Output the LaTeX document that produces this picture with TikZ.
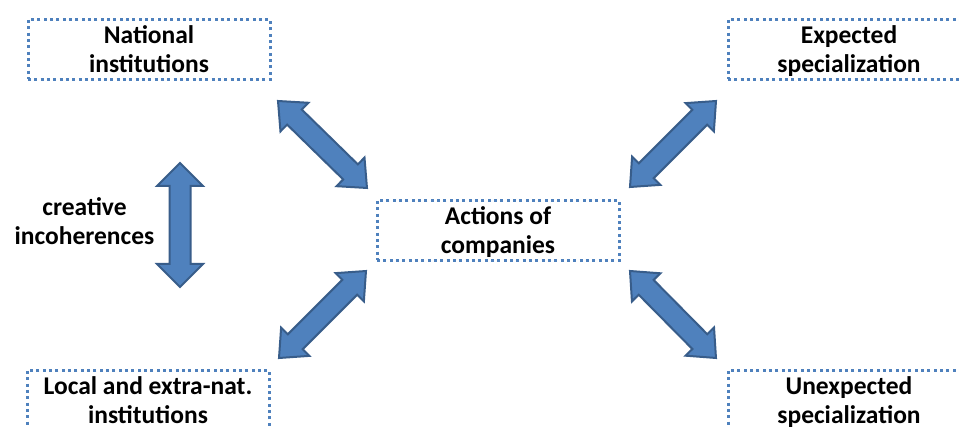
\documentclass[tikz,border=0pt]{standalone}
\usepackage{fontspec}
\setmainfont{Carlito}
\usetikzlibrary{calc}
\definecolor{boxblue}{HTML}{4F81BD}
\definecolor{arrowfill}{HTML}{4F81BD}
\definecolor{arrowline}{HTML}{385D8A}
\newcommand\boxfont{\fontsize{25.5}{29}\selectfont\bfseries}
\newcommand\st{\rule[-4pt]{0pt}{26pt}}
% double arrow: from, to, head length, head half width, shaft half width
\newcommand\dblarrow[5]{%
  \draw[bigarrow] let \p1=($(#2)-(#1)$), \n1={veclen(\x1,\y1)}, \n2={atan2(\y1,\x1)} in
    [shift={(#1)}, rotate=\n2]
    (0,0) -- (#3,#4) -- (#3,#5) -- ({\n1-#3},#5) -- ({\n1-#3},#4) -- (\n1,0)
    -- ({\n1-#3},-#4) -- ({\n1-#3},-#5) -- (#3,-#5) -- (#3,-#4) -- cycle;}
\tikzset{
  box/.style={draw=boxblue, line width=3pt, dash pattern=on 3pt off 3.33pt,
    minimum width=242pt, minimum height=60pt, inner sep=0pt, align=center, font=\boxfont},
  lbl/.style={inner sep=0pt, align=center, font=\boxfont},
  bigarrow/.style={fill=arrowfill, draw=arrowline, line width=2pt, line join=miter}
}
\begin{document}
\begin{tikzpicture}[x=1pt, y=-1pt]
  \clip (0,0) rectangle (959,427);
  \fill[white] (0,0) rectangle (959,427);
  % boxes
  \node[box] (nat) at (149,49.5) {\st National\\\st institutions};
  \node[box] (exp) at (849,49.5) {\st Expected\\\st specialization};
  \node[box] (act) at (498,230.5) {\st Actions of\\\st companies};
  \node[box] (loc) at (148,400.5) {\st Local and extra-nat.\\\st institutions};
  \node[box] (unexp) at (849,400.5) {\st Unexpected\\\st specialization};
  \node[lbl] (ci) at (84.5,221.5) {\st creative\\\st incoherences};
  % arrow end points
  \coordinate (a1s) at (278,101);
  \coordinate (a1e) at (367,188);
  \coordinate (a2s) at (630,187);
  \coordinate (a2e) at (716,101);
  \coordinate (a3s) at (279,358);
  \coordinate (a3e) at (366,271);
  \coordinate (a4s) at (630,271);
  \coordinate (a4e) at (716,358);
  \coordinate (vs) at (180,163);
  \coordinate (ve) at (180,287);
  % arrows
  \dblarrow{a1s}{a1e}{23}{20}{10.5}
  \dblarrow{a2s}{a2e}{23}{20}{10.5}
  \dblarrow{a3s}{a3e}{23}{20}{10.5}
  \dblarrow{a4s}{a4e}{23}{20}{10.5}
  \dblarrow{vs}{ve}{23}{23}{10.5}
\end{tikzpicture}
\end{document}
